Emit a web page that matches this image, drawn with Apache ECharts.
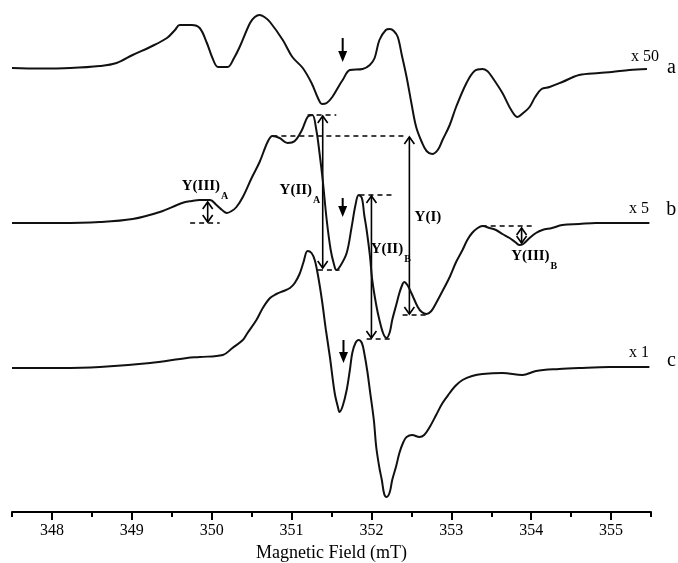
<!DOCTYPE html>
<html><head><meta charset="utf-8">
<script src="https://cdn.jsdelivr.net/npm/echarts@6/dist/echarts.min.js"></script>
<style>html,body{margin:0;padding:0;background:#fff}#c{width:678px;height:563px}</style>
</head><body><div id="c"></div>
<script>
// Field (mT) vs. derivative signal (arbitrary units) for each trace
const traceA = [[347.5,0],[347.85,-0.5],[348.23,0],[348.6,2],[348.81,5],[349.01,13],[349.23,21],[349.44,30],[349.54,38],[349.6,43],[349.75,43],[349.85,40],[349.94,25],[350.01,10],[350.08,1],[350.2,1],[350.28,10],[350.35,21],[350.48,45],[350.54,51],[350.6,53],[350.66,51],[350.73,46],[350.89,28],[351.01,11],[351.14,0],[351.25,-15],[351.33,-30],[351.38,-36],[351.44,-35],[351.51,-29],[351.6,-17],[351.64,-12],[351.73,-2],[351.89,-1],[351.98,3],[352.04,10],[352.1,28],[352.18,38],[352.23,39],[352.28,37],[352.33,31],[352.38,13],[352.44,-9],[352.5,-35],[352.56,-59],[352.63,-74],[352.69,-83],[352.76,-86],[352.83,-82],[352.89,-72],[352.98,-57],[353.06,-39],[353.19,-15],[353.29,-3],[353.39,-1],[353.45,-3],[353.51,-9],[353.64,-25],[353.75,-42],[353.83,-49],[353.9,-45],[353.98,-39],[354.05,-29],[354.13,-21],[354.23,-19],[354.39,-14],[354.6,-7],[354.85,-5],[355.01,-4],[355.23,-2],[355.45,-1]];
const traceB = [[347.5,0],[348.1,0],[348.6,1],[349.01,4],[349.35,11],[349.63,20],[349.75,22],[349.85,23],[349.98,23],[350.06,18],[350.13,13],[350.19,10],[350.25,12],[350.31,16],[350.39,26],[350.5,45],[350.6,61],[350.7,81],[350.76,87],[350.85,85],[350.95,80],[351.04,82],[351.13,93],[351.2,106],[351.26,108],[351.31,93],[351.35,70],[351.39,43],[351.44,3],[351.49,-27],[351.53,-41],[351.56,-47],[351.61,-43],[351.69,-30],[351.75,-5],[351.8,18],[351.84,28],[351.88,25],[351.91,8],[351.94,-7],[351.98,-32],[352.01,-57],[352.06,-82],[352.1,-97],[352.15,-111],[352.19,-115],[352.23,-109],[352.26,-97],[352.31,-82],[352.35,-70],[352.39,-61],[352.41,-59],[352.45,-62],[352.5,-70],[352.58,-84],[352.63,-89],[352.69,-91],[352.75,-88],[352.81,-80],[352.89,-68],[352.98,-54],[353.06,-39],[353.14,-27],[353.2,-17],[353.26,-10],[353.33,-5],[353.39,-3],[353.48,-5],[353.56,-7],[353.64,-11],[353.73,-15],[353.8,-19],[353.85,-22],[353.9,-21],[353.98,-15],[354.06,-10],[354.14,-7],[354.26,-5],[354.39,-2],[354.6,-1],[354.81,0],[355.1,0],[355.48,0]];
const traceC = [[347.5,0],[348.1,0],[348.6,1],[349.23,5],[349.69,10],[349.85,11],[350.14,13],[350.26,20],[350.39,28],[350.44,34],[350.56,48],[350.64,60],[350.73,70],[350.81,74],[350.9,77],[350.98,80],[351.04,85],[351.1,94],[351.15,106],[351.2,117],[351.25,115],[351.29,108],[351.33,93],[351.38,68],[351.43,38],[351.48,11],[351.54,-25],[351.58,-39],[351.6,-44],[351.64,-38],[351.69,-22],[351.73,-2],[351.76,15],[351.8,25],[351.84,28],[351.88,25],[351.91,15],[351.95,-4],[351.98,-22],[352.03,-52],[352.06,-79],[352.1,-100],[352.13,-112],[352.16,-126],[352.19,-129],[352.23,-124],[352.26,-112],[352.31,-98],[352.35,-85],[352.4,-74],[352.44,-69],[352.51,-67],[352.6,-69],[352.66,-67],[352.73,-59],[352.81,-47],[352.89,-35],[352.98,-25],[353.05,-18],[353.14,-12],[353.26,-8],[353.39,-6],[353.64,-5],[353.89,-7],[354.06,-3],[354.35,-1],[354.6,0],[354.98,1],[355.48,1]];

// vertical stacking offsets of the traces
const offsets = {a: 444, b: 289, c: 144};

const majorTicks = [348, 349, 350, 351, 352, 353, 354, 355];
const minorTicks = [347.5, 348.5, 349.5, 350.5, 351.5, 352.5, 353.5, 354.5, 355.5];

// annotations: [trace, field1, field2, signal]
const dashedLines = [['b',349.73,350.1,0],['b',351.2,351.56,108],['b',350.76,352.45,87],['b',351.33,351.6,-47],['b',351.85,352.29,28],['b',351.94,352.26,-116],['b',352.39,352.7,-92],['b',353.38,354.04,-3]];
// [trace, field, topSignal, bottomSignal]
const doubleArrows = [['b',349.95,21,1],['b',351.39,107,-45],['b',352.0,27,-115],['b',352.475,86,-91],['b',353.88,-5,-20]];
const downArrows = [['a',351.64,30,6],['b',351.64,25,6],['c',351.65,28,5]];
// [main, subscript, trace, field, signal, fontSize, bold]
const labels = [['Y(III)','A','b',349.625,35,15,true],['Y(II)','A','b',350.85,31,15,true],['Y(II)','B','b',351.99,-28,15,true],['Y(I)','','b',352.54,4,15,true],['Y(III)','B','b',353.75,-35,15,true],['x 50','','a',355.25,10,16,false],['a','','a',355.7,-1,20,false],['x 5','','b',355.225,13,16,false],['b','','b',355.69,12,20,false],['x 1','','c',355.225,14,16,false],['c','','c',355.7,6,20,false]];

const FONT = 'Liberation Serif, Times New Roman, serif';
const chart = echarts.init(document.getElementById('c'));
const lineSeries = (data, off) => ({
  type: 'line', xAxisIndex: 0, yAxisIndex: 0, showSymbol: false, smooth: 0.35, animation: false,
  lineStyle: {color: '#111', width: 2}, data: data.map(p => [p[0], p[1] + off]), silent: true
});
chart.setOption({
  animation: false,
  grid: {left: 12, right: 27, top: 0, bottom: 51, outerBoundsMode: 'none', containLabel: false},
  xAxis: [{
    type: 'value', min: 347.5, max: 355.5, position: 'bottom',
    axisLine: {show: true, onZero: false, lineStyle: {color: '#000', width: 2}},
    axisTick: {show: true, customValues: majorTicks, length: 8, lineStyle: {color: '#000', width: 2}},
    axisLabel: {customValues: majorTicks, color: '#000', fontFamily: FONT, fontSize: 16, margin: 11},
    splitLine: {show: false},
    name: 'Magnetic Field (mT)', nameLocation: 'middle', nameGap: 31,
    nameTextStyle: {color: '#000', fontFamily: FONT, fontSize: 18}
  }, {
    type: 'value', min: 347.5, max: 355.5, position: 'bottom',
    axisLine: {show: false, onZero: false},
    axisTick: {show: true, customValues: minorTicks, length: 5, lineStyle: {color: '#000', width: 2}},
    axisLabel: {show: false}, splitLine: {show: false}
  }],
  yAxis: {type: 'value', min: 0, max: 512, show: false},
  series: [
    lineSeries(traceA, offsets.a), lineSeries(traceB, offsets.b), lineSeries(traceC, offsets.c),
    {
      type: 'custom', xAxisIndex: 0, clip: false, silent: true,
      data: dashedLines.map(d => [d[1], d[2], d[3] + offsets[d[0]]]),
      renderItem: (params, api) => {
        const p1 = api.coord([api.value(0), api.value(2)]);
        const p2 = api.coord([api.value(1), api.value(2)]);
        return {type: 'line', shape: {x1: p1[0], y1: p1[1], x2: p2[0], y2: p2[1]},
          style: {stroke: '#000', lineWidth: 1.6, lineDash: [5, 4]}};
      }
    },
    {
      type: 'custom', xAxisIndex: 0, clip: false, silent: true,
      data: doubleArrows.map(d => [d[1], d[2] + offsets[d[0]], d[3] + offsets[d[0]]]),
      renderItem: (params, api) => {
        const t = api.coord([api.value(0), api.value(1)]);
        const b = api.coord([api.value(0), api.value(2)]);
        const w = 5, h = 7, st = {stroke: '#000', lineWidth: 1.6, fill: null};
        return {type: 'group', children: [
          {type: 'line', shape: {x1: t[0], y1: t[1], x2: b[0], y2: b[1]}, style: st},
          {type: 'polyline', shape: {points: [[t[0]-w, t[1]+h], [t[0], t[1]], [t[0]+w, t[1]+h]]}, style: st},
          {type: 'polyline', shape: {points: [[b[0]-w, b[1]-h], [b[0], b[1]], [b[0]+w, b[1]-h]]}, style: st}
        ]};
      }
    },
    {
      type: 'custom', xAxisIndex: 0, clip: false, silent: true,
      data: downArrows.map(d => [d[1], d[2] + offsets[d[0]], d[3] + offsets[d[0]]]),
      renderItem: (params, api) => {
        const t = api.coord([api.value(0), api.value(1)]);
        const b = api.coord([api.value(0), api.value(2)]);
        return {type: 'group', children: [
          {type: 'line', shape: {x1: t[0], y1: t[1], x2: b[0], y2: b[1] - 8}, style: {stroke: '#000', lineWidth: 2}},
          {type: 'polygon', shape: {points: [[b[0]-4.5, b[1]-11], [b[0]+4.5, b[1]-11], [b[0], b[1]]]}, style: {fill: '#000'}}
        ]};
      }
    },
    {
      type: 'custom', xAxisIndex: 0, clip: false, silent: true,
      data: labels.map(l => [l[3], l[4] + offsets[l[2]]]),
      renderItem: (params, api) => {
        const l = labels[params.dataIndex];
        const p = api.coord([api.value(0), api.value(1)]);
        const fw = l[6] ? 'bold' : 'normal';
        const lh = l[5] + 3;
        const text = l[1] ? '{m|' + l[0] + '}{s|' + l[1] + '}' : '{m|' + l[0] + '}';
        return {type: 'text', x: p[0], y: p[1] - lh / 2, style: {
          text: text, align: 'left', verticalAlign: 'top',
          rich: {
            m: {fontSize: l[5], fontWeight: fw, fontFamily: FONT, fill: '#000', lineHeight: lh, verticalAlign: 'top'},
            s: {fontSize: 10, fontWeight: 'bold', fontFamily: FONT, fill: '#000', lineHeight: 10, padding: [lh - 6, 0, 0, 1], verticalAlign: 'top'}
          }
        }};
      }
    }
  ]
});
</script></body></html>
